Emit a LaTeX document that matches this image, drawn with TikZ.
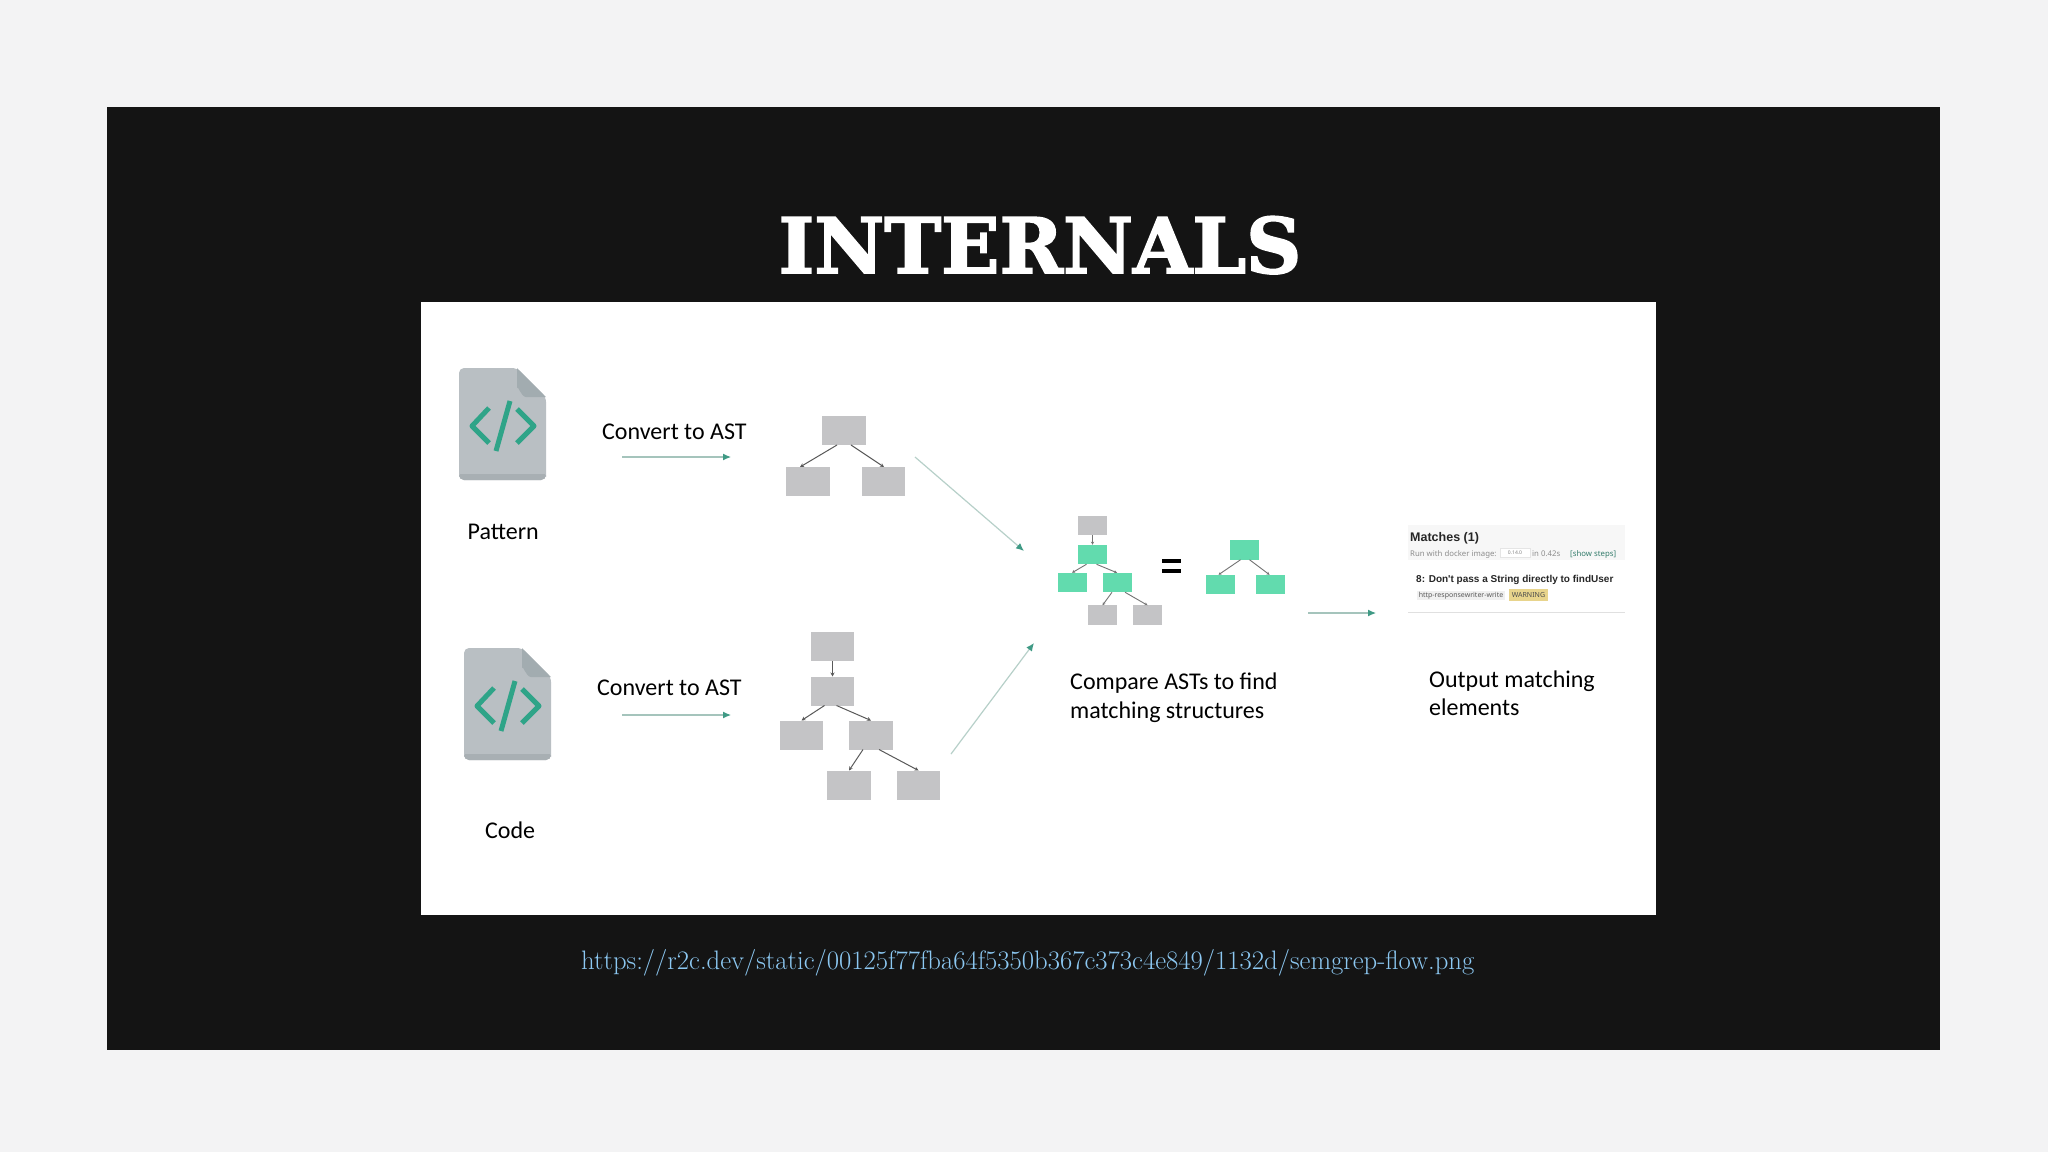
\documentclass[tikz,border=0pt]{standalone}
\usepackage{fontspec}
\usetikzlibrary{arrows.meta}
\newfontfamily\lblfont{Carlito}
\newfontfamily\uifont{Noto Sans}
\newfontfamily\uibold{Liberation Sans Bold}
\newfontfamily\titlefont[FakeBold=2.2]{DejaVu Serif Bold}
\newcommand{\fsz}[1]{\fontsize{#1}{#1}\selectfont}
\definecolor{pagebg}{HTML}{F3F3F4}
\definecolor{slidebg}{HTML}{141414}
\definecolor{boxgrey}{HTML}{C4C4C6}
\definecolor{boxgreen}{HTML}{62DBAE}
\definecolor{docbody}{HTML}{B9BFC3}
\definecolor{docfold}{HTML}{A2ACB0}
\definecolor{docband}{HTML}{A8AFB3}
\definecolor{tealg}{HTML}{2FA488}
\definecolor{tealhead}{HTML}{3F9A85}
\definecolor{tealline}{HTML}{A5C4BC}
\definecolor{linkblue}{HTML}{8CC8F2}
\definecolor{warnfill}{HTML}{E8D48C}
\tikzset{
  x=1pt,y=-1pt,
  treebox/.style={rectangle,inner sep=0pt,outer sep=0pt,minimum width=#1,fill=boxgrey},
  treebox/.default=43pt,
  bigbox/.style={treebox=43.5pt,minimum height=29pt},
  smallgrey/.style={treebox=29pt,minimum height=19.5pt},
  smallgreen/.style={smallgrey,fill=boxgreen},
  lbl/.style={anchor=base west,inner sep=0pt,text=black,font=\lblfont\fsz{24}},
  treearrow/.style={draw=black!65,line width=1pt,-{Stealth[length=4pt,width=4pt]}},
  matcharrow/.style={draw=black!55,line width=0.9pt,-{Stealth[length=3pt,width=3pt]}},
  flowarrow/.style={draw=tealline,line width=1.2pt,-{Latex[length=8pt,width=7pt,color=tealhead]}},
  uitext/.style={anchor=base west,inner sep=0pt,font=\uifont},
  docicon/.pic={
    \fill[docbody,rounded corners=5pt] (0,0) -- (58,0) -- (87,29) -- (87,112) -- (0,112) -- cycle;
    \fill[docband,rounded corners=5pt] (0,104) -- (87,104) -- (87,112) -- (0,112) -- cycle;
    \fill[docbody] (0,100) rectangle (87,106);
    \fill[docfold] (58,0) -- (87,29) -- (67,29) to[out=180,in=90] (58,20) -- cycle;
    \draw[tealg,line width=5pt,line join=round] (30,40) -- (13,58) -- (30,75);
    \draw[tealg,line width=5pt] (51,33) -- (37,83);
    \draw[tealg,line width=5pt,line join=round] (58,41) -- (75,58) -- (58,75);
  }
}
\begin{document}
\begin{tikzpicture}
\useasboundingbox (0,0) rectangle (2048,1152);
\fill[pagebg] (0,0) rectangle (2048,1152);
\fill[slidebg] (107,107) rectangle (1940,1050);
\fill[white] (421,302) rectangle (1656,915);
% title and link
\node[anchor=base,inner sep=0pt,text=white,font=\titlefont\fsz{76.5}] (title) at (1040,273) {INTERNALS};
\node[anchor=base west,inner sep=0pt,text=linkblue,font=\fsz{26.7}] (link) at (581,969) {https://r2c.dev/static/00125f77fba64f5350b367c373c4e849/1132d/semgrep-flow.png};
% icons
\pic at (459,368) {docicon};
\pic at (464,648) {docicon};
\node[lbl] (patternlbl) at (467.5,539) {Pattern};
\node[lbl] (codelbl) at (485,838) {Code};
\node[lbl] (conv1) at (602,439) {Convert to AST};
\node[lbl] (conv2) at (597,695) {Convert to AST};
\coordinate (c1a) at (622,457); \coordinate (c1b) at (731,457);
\coordinate (c2a) at (622,715); \coordinate (c2b) at (731,715);
\draw[flowarrow] (c1a) -- (c1b);
\draw[flowarrow] (c2a) -- (c2b);
% pattern tree
\node[bigbox] (pt) at (844,430.5) {};
\node[bigbox] (pl) at (808,481.5) {};
\node[bigbox] (pr) at (883.5,481.5) {};
\draw[treearrow] ([xshift=-7pt]pt.south) -- ([xshift=-8pt]pl.north);
\draw[treearrow] ([xshift=7pt]pt.south) -- ([xshift=0.5pt]pr.north);
% code tree
\node[bigbox] (ca) at (832.5,646.5) {};
\node[bigbox] (cb) at (832.5,691) {};
\node[bigbox] (cc) at (801.5,735) {};
\node[bigbox] (cd) at (871,735) {};
\node[bigbox] (ce) at (849,785) {};
\node[bigbox] (cf) at (918.5,785) {};
\draw[treearrow] (ca) -- (cb);
\draw[treearrow] ([xshift=-8pt]cb.south) -- (cc.north);
\draw[treearrow] ([xshift=4pt]cb.south) -- (cd.north);
\draw[treearrow] ([xshift=-8pt]cd.south) -- (ce.north);
\draw[treearrow] ([xshift=8pt]cd.south) -- (cf.north);
% long arrows
\coordinate (l1a) at (915,457); \coordinate (l1b) at (1024,551);
\coordinate (l2a) at (951,754); \coordinate (l2b) at (1034,643);
\draw[flowarrow,draw=tealline!80] (l1a) -- (l1b);
\draw[flowarrow,draw=tealline!80] (l2a) -- (l2b);
% match tree
\node[smallgrey] (ma) at (1092.5,525.5) {};
\node[smallgreen] (mb) at (1092.5,554.5) {};
\node[smallgreen] (mc) at (1072,582.5) {};
\node[smallgreen] (md) at (1117,582.5) {};
\node[smallgrey] (me) at (1102.5,615) {};
\node[smallgrey] (mf) at (1147.5,615) {};
\draw[matcharrow] (ma) -- (mb);
\draw[matcharrow] ([xshift=-6pt]mb.south) -- (mc.north);
\draw[matcharrow] ([xshift=4pt]mb.south) -- (md.north);
\draw[matcharrow] ([xshift=-5pt]md.south) -- (me.north);
\draw[matcharrow] ([xshift=8pt]md.south) -- (mf.north);
% equals sign
\node[anchor=center,inner sep=0pt,minimum width=19pt,minimum height=4pt,fill=black] (eqa) at (1171.5,561) {};
\node[anchor=center,inner sep=0pt,minimum width=19pt,minimum height=4pt,fill=black] (eqb) at (1171.5,570.5) {};
% matched subtree
\node[smallgreen] (st) at (1244.5,550) {};
\node[smallgreen] (sl) at (1220.5,584.5) {};
\node[smallgreen] (sr) at (1270.5,584.5) {};
\draw[matcharrow] ([xshift=-4pt]st.south) -- ([xshift=-2pt]sl.north);
\draw[matcharrow] ([xshift=5pt]st.south) -- ([xshift=-1pt]sr.north);
\node[lbl] (cmp1) at (1070,689) {Compare ASTs to find};
\node[lbl] (cmp2) at (1070,718) {matching structures};
% output
\coordinate (oa) at (1308,613); \coordinate (ob) at (1376,613);
\draw[flowarrow] (oa) -- (ob);
\node[lbl] (out1) at (1429,687) {Output matching};
\node[lbl] (out2) at (1429,715) {elements};
% matches panel
\fill[white!97!black] (1408,525) rectangle (1625,560);
\draw[black!12,line width=1pt] (1408,612) -- (1625,612);
\node[uitext,font=\uibold\fsz{12.5},text=black!85] (mt) at (1410,541) {Matches (1)};
\node[uitext,font=\uifont\fsz{7.8},text=black!45] (run) at (1410,556) {Run with docker image:};
\node[inner sep=0pt,minimum width=30pt,minimum height=9pt,fill=white,draw=black!10,line width=.5pt,font=\uifont\fsz{5},text=black!50] (ver) at (1515,553) {0.14.0};
\node[uitext,font=\uifont\fsz{7.8},text=black!45] (tm) at (1532,556) {in 0.42s};
\node[uitext,font=\uifont\fsz{7.8},text=tealhead!80!black] (show) at (1570,556) {[show steps]};
\node[uitext,font=\uibold\fsz{10},text=black!85] (rule) at (1416,582) {8: Don't pass a String directly to findUser};
\node[inner sep=0pt,minimum width=88pt,minimum height=9pt,fill=black!6,font=\uifont\fsz{7},text=black!65] (chipa) at (1461,595.5) {http-responsewriter-write};
\node[inner sep=0pt,minimum width=39pt,minimum height=12pt,fill=warnfill,font=\uifont\fsz{7},text=black!70] (chipb) at (1528.5,595) {WARNING};
\end{tikzpicture}
\end{document}
